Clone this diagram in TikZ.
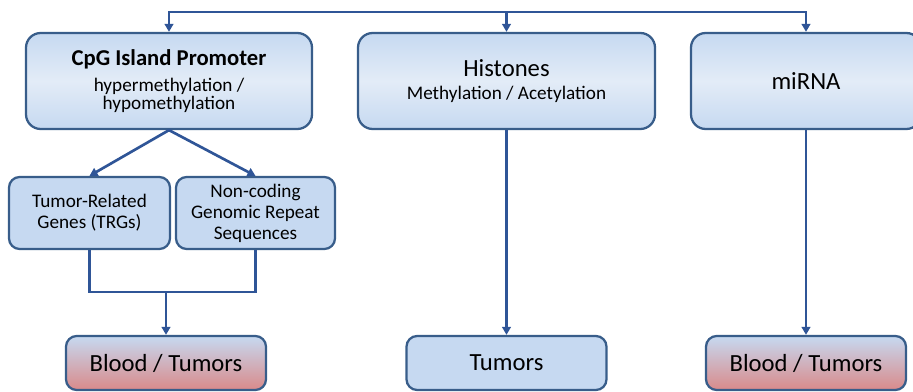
\documentclass[tikz,border=0pt]{standalone}
\usepackage{fontspec}
\setmainfont{Carlito}
\usetikzlibrary{arrows.meta,positioning}
\definecolor{boxline}{HTML}{385D8A}
\definecolor{wire}{HTML}{2F5597}
\definecolor{paleblue}{HTML}{C6D9F1}
\definecolor{lightblue}{HTML}{E3ECF7}
\definecolor{rosered}{HTML}{D98A8A}
\newcommand{\titlefont}{\fontsize{17}{18}\selectfont\bfseries}
\newcommand{\headfont}{\fontsize{18.5}{18}\selectfont}
\newcommand{\subfont}{\fontsize{14.4}{14.25}\selectfont}
\newcommand{\smallfont}{\fontsize{14.4}{15.75}\selectfont}

\tikzset{
  bigbox/.style={draw=boxline,line width=1.7pt,rounded corners=11pt,
    top color=paleblue,bottom color=paleblue,middle color=lightblue,
    minimum height=72pt,align=center,inner sep=2pt},
  smallbox/.style={draw=boxline,line width=1.7pt,rounded corners=8pt,
    fill=paleblue,minimum height=54pt,align=center,inner sep=2pt,font=\smallfont},
  endbox/.style={draw=boxline,line width=1.7pt,rounded corners=8pt,
    minimum width=150pt,minimum height=40.5pt,font=\headfont},
  redend/.style={endbox,top color=paleblue,bottom color=rosered},
  blueend/.style={endbox,fill=paleblue},
  link/.style={draw=wire,line width=2pt},
  arr/.style={link,-{Triangle[length=6pt,width=6.5pt]}}
}

\begin{document}
\begin{tikzpicture}[x=0.75pt,y=-0.75pt]
\useasboundingbox (0,0) rectangle (913,392);

% upper row
\node[bigbox,minimum width=214.5pt] (cpg) at (169,81)
  {{\titlefont CpG Island Promoter}\\[6pt]{\subfont hypermethylation /}\\{\subfont hypomethylation}};
\node[bigbox,minimum width=222.75pt] (hist) at (506.5,81)
  {{\headfont Histones}\\[5pt]{\subfont Methylation / Acetylation}};
\node[bigbox,minimum width=172.5pt] (mirna) at (806,81) {\headfont miRNA};

% CpG branches
\node[smallbox,minimum width=120.75pt] (trg) at (89.5,213) {Tumor-Related\\Genes (TRGs)};
\node[smallbox,minimum width=119.25pt] (ncr) at (255.5,213) {Non-coding\\Genomic Repeat\\Sequences};

% results
\node[redend] (blood1) at (166,363) {Blood / Tumors};
\node[blueend] (tumors) at (506.5,363) {Tumors};
\node[redend] (blood2) at (806,363) {Blood / Tumors};

% connectors
\coordinate (bus) at (506.5,12);
\coordinate (join) at (166,292);
\draw[arr] (bus) -| (cpg.north);
\draw[arr] (bus) -- (hist.north);
\draw[arr] (bus) -| (mirna.north);
\draw[arr] (cpg.south) -- (trg.north);
\draw[arr] (cpg.south) -- (ncr.north);
\draw[link] (trg.south) |- (join) -| (ncr.south);
\draw[arr] (join) -- (blood1.north);
\draw[arr] (hist.south) -- (tumors.north);
\draw[arr] (mirna.south) -- (blood2.north);
\end{tikzpicture}
\end{document}
